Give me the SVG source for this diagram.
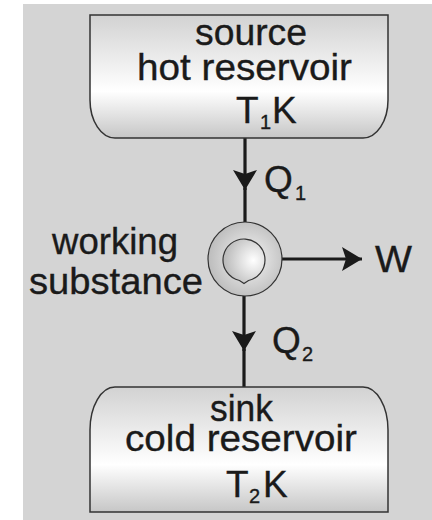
<svg xmlns="http://www.w3.org/2000/svg" width="432" height="520" viewBox="0 0 432 520">
<style>
.t{font-family:"Liberation Sans",Arial,sans-serif;font-size:37px;fill:#1a1a1a;stroke:#1a1a1a;stroke-width:0.35}
.s{font-size:20px}
.box{stroke:#333;stroke-width:1.5;fill:url(#boxg)}
.ln{stroke:#1a1a1a;stroke-width:3.2;fill:none}
</style>
<defs>
<linearGradient id="boxg" x1="0" y1="0" x2="0" y2="1">
<stop offset="0" stop-color="#d2d2d2"/>
<stop offset="0.62" stop-color="#ffffff"/>
<stop offset="1" stop-color="#c6c6c6"/>
</linearGradient>
<radialGradient id="outg" cx="0.55" cy="0.5" r="0.55">
<stop offset="0" stop-color="#f6f6f6"/>
<stop offset="1" stop-color="#bcbcbc"/>
</radialGradient>
<radialGradient id="ing" cx="0.72" cy="0.48" r="0.75">
<stop offset="0" stop-color="#ffffff"/>
<stop offset="1" stop-color="#b4b4b4"/>
</radialGradient>
<marker id="ah" markerUnits="userSpaceOnUse" markerWidth="22" markerHeight="24" refX="20" refY="12" orient="auto">
<path d="M0,0 L20,12 L0,24 L4,12 Z" fill="#1a1a1a"/>
</marker>
</defs>
<rect x="0" y="0" width="432" height="520" fill="#ffffff"/>
<rect x="23" y="4" width="409" height="516" fill="#d4d4d4"/>

<g id="connectors">
<line class="ln" x1="245" y1="138" x2="245" y2="190" marker-end="url(#ah)"/>
<line class="ln" x1="245" y1="188" x2="245" y2="222"/>
<line class="ln" x1="265" y1="259" x2="362" y2="259" marker-end="url(#ah)"/>
<line class="ln" x1="244" y1="296" x2="244" y2="351" marker-end="url(#ah)"/>
<line class="ln" x1="244" y1="349" x2="244" y2="387"/>
</g>

<g id="source">
<path class="box" d="M90,15 H388 V100 A25,38 0 0 1 363,138 H115 A25,38 0 0 1 90,100 Z"/>
<text class="t" x="195" y="45" textLength="112" lengthAdjust="spacingAndGlyphs">source</text>
<text class="t" x="137" y="80" textLength="215" lengthAdjust="spacingAndGlyphs">hot reservoir</text>
<text class="t" y="123"><tspan x="236">T</tspan><tspan class="s" x="260" y="129">1</tspan><tspan x="272" y="123">K</tspan></text>
</g>

<g id="working">
<circle cx="245" cy="259" r="37" fill="url(#outg)" stroke="#333" stroke-width="1.2"/>
<path d="M265,260 A21,21 0 0 1 248.5,280.5 L244,283.5 L239.5,280.5 A21,21 0 1 1 265,260 Z" fill="url(#ing)" stroke="#333" stroke-width="1.2"/>
<text class="t" x="52" y="254" textLength="126" lengthAdjust="spacingAndGlyphs">working</text>
<text class="t" x="29" y="294" textLength="174" lengthAdjust="spacingAndGlyphs">substance</text>
</g>

<g id="labels">
<text class="t" y="192"><tspan x="264">Q</tspan><tspan class="s" x="295" y="200">1</tspan></text>
<text class="t" x="375" y="272" textLength="37" lengthAdjust="spacingAndGlyphs">W</text>
<text class="t" y="353"><tspan x="272">Q</tspan><tspan class="s" x="302" y="361">2</tspan></text>
</g>

<g id="sink">
<path class="box" d="M90,512 V430 A25,43 0 0 1 115,387 H363 A25,43 0 0 1 388,430 V512 Z"/>
<text class="t" x="210" y="421" textLength="63" lengthAdjust="spacingAndGlyphs">sink</text>
<text class="t" x="125" y="451" textLength="232" lengthAdjust="spacingAndGlyphs">cold reservoir</text>
<text class="t" y="497"><tspan x="226">T</tspan><tspan class="s" x="249" y="503">2</tspan><tspan x="263" y="497">K</tspan></text>
</g>
</svg>
